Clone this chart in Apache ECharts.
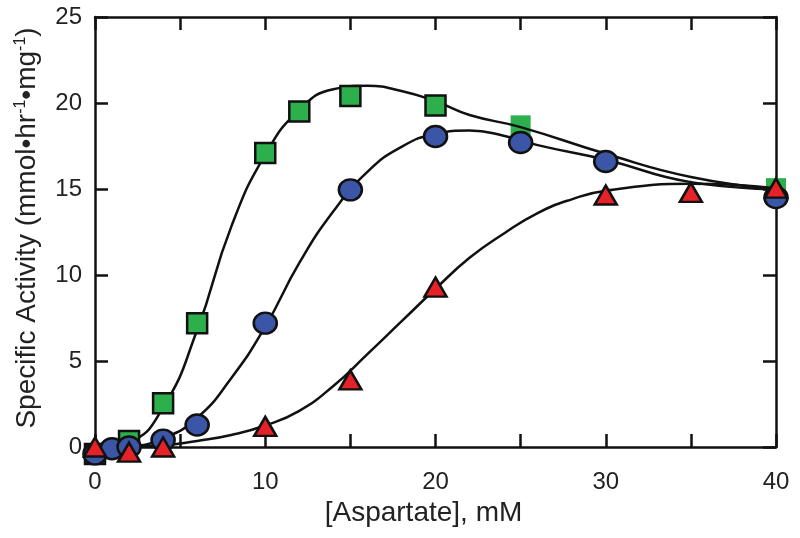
<!DOCTYPE html>
<html>
<head>
<meta charset="utf-8">
<script src="https://cdn.jsdelivr.net/npm/echarts@6/dist/echarts.min.js"></script>
<style>
  html, body { margin: 0; padding: 0; background: #fff; }
  #chart { width: 800px; height: 538px; }
</style>
</head>
<body>
<div id="chart"></div>
<script>
var chartDom = document.getElementById('chart');
var myChart = echarts.init(chartDom);

// measured points
var squareX = [0, 2, 4, 6, 10, 12, 15, 20];
var squareY = [-0.4, 0.35, 2.55, 7.2, 17.1, 19.5, 20.4, 19.85];
// squares without outline, drawn behind the curves
var squareFlatX = [25, 40];
var squareFlatY = [18.7, 15.05];

var circleX = [0, 1, 2, 4, 6, 10, 15, 20, 25, 30, 40];
var circleY = [-0.4, -0.1, 0, 0.4, 1.28, 7.2, 14.95, 18.05, 17.7, 16.6, 14.5];

var triangleX = [0, 2, 4, 10, 15, 20, 30, 35, 40];
var triangleY = [0, -0.3, 0, 1.2, 3.9, 9.3, 14.65, 14.8, 15.05];

// fitted curves
var greenCurveX = [0, 2, 4, 6, 8, 10, 12, 14, 16, 18, 20, 22, 25, 30, 35, 40];
var greenCurveY = [0, 0.3, 2.3, 6.8, 12.8, 17.0, 19.6, 20.8, 21.0, 20.7, 20.1, 19.3, 18.6, 17.05, 15.7, 15.0];

var blueCurveX = [0, 2, 4, 6, 8, 10, 12, 14, 16, 18, 20, 22, 24, 26, 30, 35, 40];
var blueCurveY = [0, 0.05, 0.5, 1.7, 4.0, 7.0, 10.7, 13.7, 16.0, 17.45, 18.2, 18.4, 18.1, 17.55, 16.7, 15.4, 15.0];

var redCurveX = [0, 4, 6, 8, 10, 12, 14, 16, 18, 20, 22, 24, 26, 28, 30, 35, 40];
var redCurveY = [0, 0.1, 0.35, 0.7, 1.25, 2.1, 3.55, 5.4, 7.3, 9.2, 11.0, 12.4, 13.6, 14.4, 14.9, 15.3, 15.05];

var xTicks = [0, 10, 20, 30, 40];
var yTicks = [0, 5, 10, 15, 20, 25];

function zip(xs, ys) {
  return xs.map(function (x, i) { return [x, ys[i]]; });
}

var font = 'Liberation Sans, Arial, sans-serif';
var axisLine = { show: true, onZero: false, lineStyle: { color: '#111', width: 2.5 } };
var tick = { show: true, inside: true, length: 13, lineStyle: { color: '#111', width: 2.5 } };

var option = {
  animation: false,
  backgroundColor: '#fff',
  grid: { left: 95, right: 24, top: 17, bottom: 91 },
  xAxis: [
    {
      type: 'value', min: 0, max: 40, interval: 5,
      axisLine: axisLine, axisTick: tick, splitLine: { show: false },
      axisLabel: {
        margin: 23, fontSize: 24, color: '#222', fontFamily: font,
        formatter: function (v) { return xTicks.indexOf(v) >= 0 ? String(v) : ''; }
      },
      name: '[Aspartate], mM', nameLocation: 'middle', nameGap: 52,
      nameTextStyle: { fontSize: 28, color: '#222', fontFamily: font, padding: [0, 24, 0, 0] }
    },
    {
      type: 'value', position: 'top', min: 0, max: 40, interval: 5,
      axisLine: axisLine, axisTick: tick, axisLabel: { show: false }, splitLine: { show: false }
    }
  ],
  yAxis: [
    {
      type: 'value', min: 0, max: 25, interval: 5,
      axisLine: axisLine, axisTick: tick, splitLine: { show: false },
      axisLabel: {
        margin: 13, fontSize: 24, color: '#222', fontFamily: font,
        formatter: function (v) { return yTicks.indexOf(v) >= 0 ? String(v) : ''; }
      },
      name: '{t|Specific Activity (mmol•hr}{s|-1}{t|•mg}{s|-1}{t|)}',
      nameLocation: 'middle', nameGap: 54,
      nameTextStyle: {
        fontSize: 28, color: '#222', fontFamily: font, padding: [0, 0, 0, 8],
        rich: {
          t: { fontSize: 28, color: '#222', fontFamily: font },
          s: { fontSize: 16, color: '#222', fontFamily: font, verticalAlign: 'top', padding: [0, 0, 12, 0] }
        }
      }
    },
    {
      type: 'value', position: 'right', min: 0, max: 25, interval: 5,
      axisLine: axisLine, axisTick: tick, axisLabel: { show: false }, splitLine: { show: false }
    }
  ],
  series: [
    {
      type: 'scatter', symbol: 'rect', symbolSize: 20, clip: false, z: 1,
      itemStyle: { color: '#2DB04B', borderWidth: 0, opacity: 1 },
      data: zip(squareFlatX, squareFlatY)
    },
    {
      type: 'line', smooth: 0.5, symbol: 'none', clip: false, z: 2,
      lineStyle: { color: '#111', width: 2.5 },
      data: zip(greenCurveX, greenCurveY)
    },
    {
      type: 'line', smooth: 0.5, symbol: 'none', clip: false, z: 2,
      lineStyle: { color: '#111', width: 2.5 },
      data: zip(blueCurveX, blueCurveY)
    },
    {
      type: 'line', smooth: 0.5, symbol: 'none', clip: false, z: 2,
      lineStyle: { color: '#111', width: 2.5 },
      data: zip(redCurveX, redCurveY)
    },
    {
      type: 'scatter', symbol: 'rect', symbolSize: 20, clip: false, z: 3,
      itemStyle: { color: '#2DB04B', borderColor: '#111', borderWidth: 2.5, opacity: 1 },
      data: zip(squareX, squareY)
    },
    {
      type: 'scatter', symbol: 'circle', symbolSize: [23, 21], clip: false, z: 4,
      itemStyle: { color: '#3B56A6', borderColor: '#111', borderWidth: 2.5, opacity: 1 },
      data: zip(circleX, circleY)
    },
    {
      type: 'scatter', symbol: 'triangle', symbolSize: [22, 19], clip: false, z: 5,
      itemStyle: { color: '#E52228', borderColor: '#111', borderWidth: 2.5, opacity: 1 },
      data: zip(triangleX, triangleY)
    }
  ]
};

myChart.setOption(option);

window.onresize = () => {
  myChart.resize();
}
</script>
</body>
</html>
